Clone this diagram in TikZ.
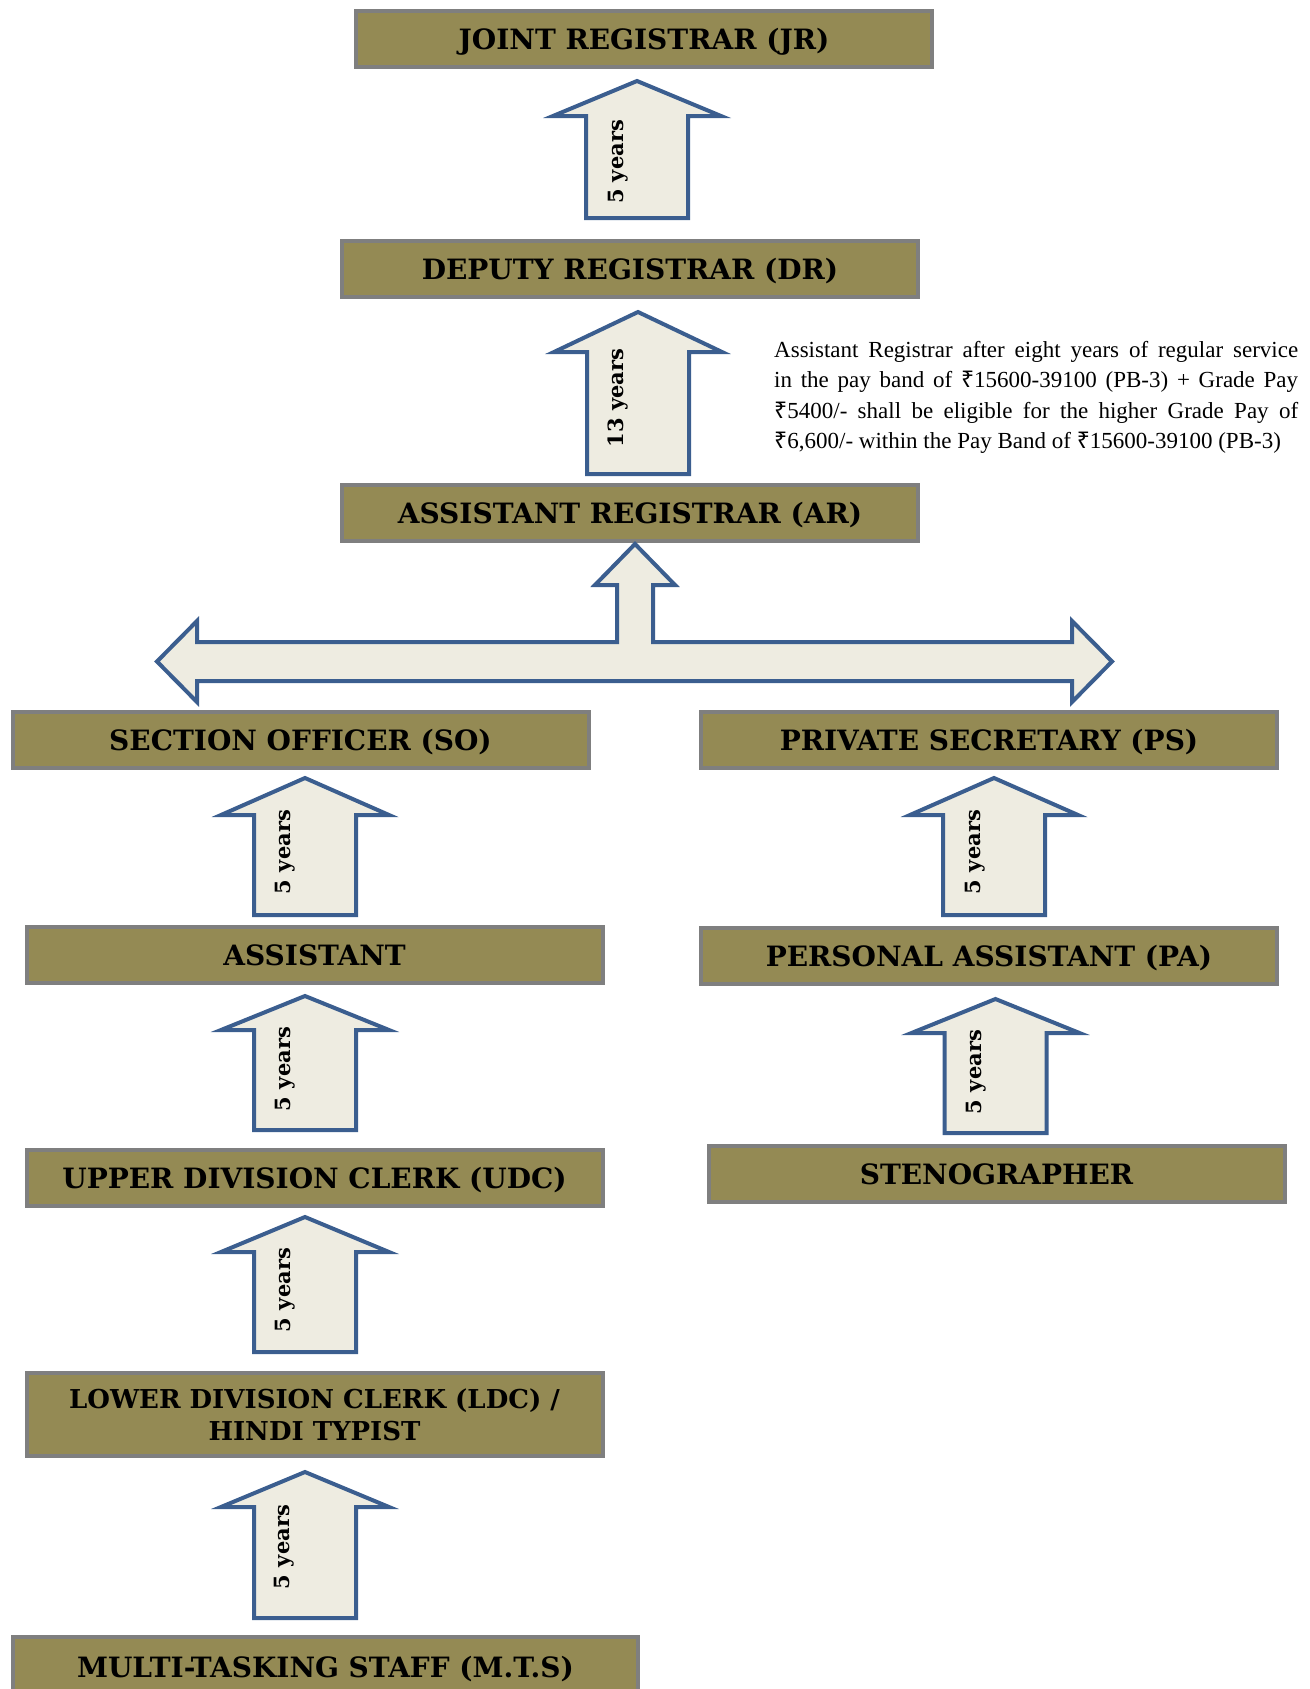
\documentclass[tikz,border=0pt]{standalone}
\usepackage{fontspec}
\setmainfont{Liberation Serif}
\newfontfamily\boxfont{DejaVu Serif}
\newfontfamily\rupfont{Noto Sans}
\newcommand\rup{{\rupfont ₹}}
\definecolor{boxfill}{HTML}{948A54}
\definecolor{boxline}{HTML}{7F7F7F}
\definecolor{arrfill}{HTML}{EEECE1}
\definecolor{arrline}{HTML}{3B5E8F}
\tikzset{
  post/.style={draw=boxline, fill=boxfill, line width=4pt, minimum width=576pt,
    minimum height=56pt, inner sep=0pt, align=center,
    font=\boxfont\bfseries\fontsize{28}{32}\selectfont},
  oneline/.style={text height=27pt, text depth=6pt},
  blockarrow/.style={draw=arrline, fill=arrfill, line width=4pt, line join=miter},
  yearlabel/.style={rotate=90, inner sep=0pt,
    font=\boxfont\bfseries\fontsize{21}{24}\selectfont},
  note/.style={text width=524pt, inner sep=0pt, align=justify,
    font=\fontsize{23}{30.5}\selectfont}
}
% #1 centre x, #2 tip y, #3 head base y, #4 bottom y
\newcommand\promoarrow[4]{%
  \draw[blockarrow] (#1,#2) -- ({#1+84},#3) -- ({#1+51},#3) -- ({#1+51},#4)
    -- ({#1-51},#4) -- ({#1-51},#3) -- ({#1-84},#3) -- cycle;}
\begin{document}
\begin{tikzpicture}[x=1pt,y=-1pt]
\useasboundingbox (0,0) rectangle (1309,1689);
\clip (0,0) rectangle (1309,1689);
% posts
\node[post, oneline] (jr) at (644,39) {JOINT REGISTRAR (JR)};
\node[post, oneline] (dr) at (630,268.5) {DEPUTY REGISTRAR (DR)};
\node[post, oneline] (ar) at (630,512.5) {ASSISTANT REGISTRAR (AR)};
\node[post, oneline] (so) at (300.5,739.5) {SECTION OFFICER (SO)};
\node[post, oneline] (ps) at (989,739.5) {PRIVATE SECRETARY (PS)};
\node[post, oneline] (asst) at (314.5,955) {ASSISTANT};
\node[post, oneline] (pa) at (989,955.5) {PERSONAL ASSISTANT (PA)};
\node[post, oneline] (udc) at (314.5,1177.5) {UPPER DIVISION CLERK (UDC)};
\node[post, oneline] (steno) at (996.5,1174) {STENOGRAPHER};
\node[post, minimum height=83pt, font=\boxfont\bfseries\fontsize{26}{32}\selectfont] (ldc) at (314.5,1414.5) {LOWER DIVISION CLERK (LDC) /\\HINDI TYPIST};
\node[post, oneline, minimum width=625pt, minimum height=60pt] (mts) at (325.5,1667) {MULTI-TASKING STAFF (M.T.S)};
% promotion arrows
\promoarrow{637}{81}{116}{218}
\node[yearlabel] (l1) at (618,162) {5 years};
\promoarrow{638}{312}{352}{474}
\node[yearlabel] (l2) at (618,398) {13 years};
\promoarrow{305}{778}{815}{915}
\node[yearlabel] (l3) at (285,852) {5 years};
\promoarrow{994}{778}{815}{915}
\node[yearlabel] (l4) at (975,852) {5 years};
\promoarrow{305}{996}{1030}{1130}
\node[yearlabel] (l5) at (285,1069) {5 years};
\promoarrow{995.5}{999}{1033}{1133}
\node[yearlabel] (l6) at (976,1072) {5 years};
\promoarrow{305}{1217}{1252}{1352}
\node[yearlabel] (l7) at (285,1290) {5 years};
\promoarrow{305}{1472}{1507}{1618}
\node[yearlabel] (l8) at (284,1547) {5 years};
% T-shaped arrow
\draw[blockarrow] (635,544) -- (675,585) -- (653,585) -- (653,642) -- (1072,642)
  -- (1072,621) -- (1112,661.5) -- (1072,702) -- (1072,681) -- (197,681)
  -- (197,702) -- (157,661.5) -- (197,621) -- (197,642) -- (617,642)
  -- (617,585) -- (595,585) -- cycle;
% note
\node[note, anchor=north west] (nt) at (774,341) {Assistant Registrar after eight years of regular service\linebreak
in the pay band of \rup15600-39100 (PB-3) + Grade Pay\linebreak
\rup5400/- shall be eligible for the higher Grade Pay of\linebreak
\rup6,600/- within the Pay Band of \rup15600-39100 (PB-3)};
\end{tikzpicture}
\end{document}
